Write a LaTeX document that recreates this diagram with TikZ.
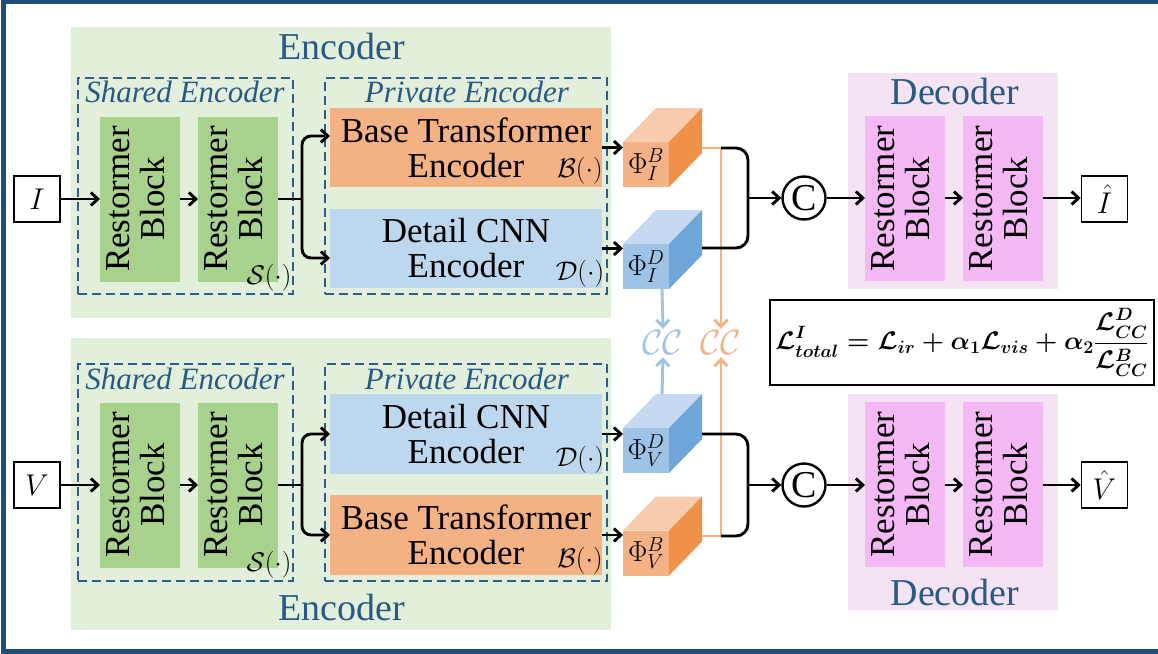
\RequirePackage{fix-cm}
\documentclass[tikz,border=0pt]{standalone}
\usepackage[no-math]{fontspec}
\setmainfont{Liberation Serif}
\usetikzlibrary{arrows.meta}
\definecolor{frameblue}{HTML}{1F4E79}
\definecolor{titleblue}{HTML}{285A88}
\definecolor{dashblue}{HTML}{2F5D8A}
\definecolor{encbgc}{HTML}{E2EFDA}
\definecolor{greenblk}{HTML}{A9D18E}
\definecolor{orangebox}{HTML}{F4B183}
\definecolor{bluebox}{HTML}{BDD7EE}
\definecolor{decbgc}{HTML}{F3E3F3}
\definecolor{pinkblk}{HTML}{F4B8F4}
\definecolor{oTop}{HTML}{F8CBAD}
\definecolor{oFront}{HTML}{F4B183}
\definecolor{oSide}{HTML}{F0914A}
\definecolor{bTop}{HTML}{C5DAF0}
\definecolor{bFront}{HTML}{9DC3E6}
\definecolor{bSide}{HTML}{6FA6DA}
\definecolor{lineorange}{HTML}{F4B183}
\definecolor{lineblue}{HTML}{9DC3E6}
\newcommand\rblock{\rotatebox{90}{\begin{tabular}{@{}c@{}}Restormer\\Block\end{tabular}}}
\newcommand\cubefaces[3]{%
  \fill[#2] (#1.north west) -- ++(33,-34) -- ++(46,0) -- (#1.north east) -- cycle;
  \fill[#3] (#1.north east) -- ++(33,-34) -- ++(0,45) -- (#1.south east) -- cycle;}
\newsavebox\lossbx
\tikzset{
  arr/.style={line width=2.9pt, -{Straight Barb[length=7pt,width=13pt]}},
  ln/.style={line width=2.9pt},
  bgbox/.style={inner sep=0, outer sep=0},
  dashbox/.style={draw=dashblue, dash pattern=on 9pt off 5pt, line width=1.8pt, inner sep=0, outer sep=0},
  gblk/.style={fill=greenblk, minimum width=80pt, minimum height=165pt, inner sep=0, outer sep=0, font=\fontsize{35}{35}\selectfont},
  pblk/.style={fill=pinkblk, minimum width=80pt, minimum height=165pt, inner sep=0, outer sep=0, font=\fontsize{35}{35}\selectfont},
  encbox/.style={minimum width=272pt, minimum height=79pt, inner sep=0, outer sep=0, align=center, font=\fontsize{35}{35}\selectfont},
  iobox/.style={draw, line width=1.5pt, minimum width=46pt, minimum height=46pt, inner sep=0, font=\fontsize{30}{30}\selectfont},
  titletext/.style={text=titleblue, font=\fontsize{38}{38}\selectfont, inner sep=0},
  subtitle/.style={text=titleblue, font=\fontsize{31}{31}\selectfont\itshape, inner sep=0},
  fn/.style={font=\fontsize{27}{27}\selectfont, inner sep=0},
  cubefront/.style={minimum width=46pt, minimum height=45pt, inner sep=0, outer sep=0, font=\fontsize{29}{29}\selectfont},
  ccirc/.style={circle, draw, line width=2.4pt, minimum size=43pt, inner sep=0, font=\fontsize{38}{38}\selectfont},
  ccl/.style={font=\fontsize{35}{35}\selectfont, inner sep=2pt},
  lossbox/.style={draw, line width=1.5pt, minimum width=384pt, minimum height=85pt, inner sep=0},
}
\begin{document}
\sbox\lossbx{\fontsize{25.5}{28}\selectfont\mathversion{bold}$\displaystyle \mathcal{L}^{I}_{total}=\mathcal{L}_{ir}+\alpha_1\mathcal{L}_{vis}+\alpha_2\frac{\mathcal{L}^{D}_{CC}}{\mathcal{L}^{B}_{CC}}$}%
\begin{tikzpicture}[x=1pt,y=-1pt]
\useasboundingbox (0,0) rectangle (1158,653);
\fill[white] (0,0) rectangle (1158,653);
\draw[frameblue, line width=5pt] (1175,1.5) -- (3,1.5) -- (3,651) -- (1175,651);

% ---------- top encoder ----------
\node[bgbox, fill=encbgc, minimum width=540pt, minimum height=291pt] (encI) at (341,172.5) {};
\node[titletext] (encIt) at (342,47) {Encoder};
\node[dashbox, minimum width=215pt, minimum height=216pt] (shI) at (185.5,186) {};
\node[subtitle] (shIt) at (185,92) {Shared Encoder};
\node[dashbox, minimum width=282pt, minimum height=216pt] (prI) at (466,186) {};
\node[subtitle] (prIt) at (467,92) {Private Encoder};
\node[gblk] (g1I) at (140,199) {\rblock};
\node[gblk] (g2I) at (238,199) {\rblock};
\node[fn] (sI) at (269,277.5) {$\mathcal{S}(\cdot)$};
\node[encbox, fill=orangebox] (bI) at (466,147.5) {Base Transformer\\Encoder};
\node[fn] (bIf) at (580,171) {$\mathcal{B}(\cdot)$};
\node[encbox, fill=bluebox] (dI) at (466,248.5) {Detail CNN\\Encoder};
\node[fn] (dIf) at (580,274) {$\mathcal{D}(\cdot)$};
\node[iobox] (I) at (37,199) {$I$};

\draw[arr] (I) -- (g1I);
\draw[arr] (g1I) -- (g2I);
\draw[ln] (g2I.east) -- ++(24,0) coordinate (spI);
\draw[arr, rounded corners=9pt] (spI) |- ([yshift=11.5pt]bI.west);
\draw[arr, rounded corners=9pt] (spI) |- ([yshift=-9.5pt]dI.west);

% ---------- bottom encoder ----------
\node[bgbox, fill=encbgc, minimum width=540pt, minimum height=292pt] (encV) at (341,484) {};
\node[titletext] (encVt) at (342,607) {Encoder};
\node[dashbox, minimum width=215pt, minimum height=217pt] (shV) at (185.5,472.5) {};
\node[subtitle] (shVt) at (185,379) {Shared Encoder};
\node[dashbox, minimum width=282pt, minimum height=217pt] (prV) at (466,472.5) {};
\node[subtitle] (prVt) at (467,379) {Private Encoder};
\node[gblk] (g1V) at (140,485) {\rblock};
\node[gblk] (g2V) at (238,485) {\rblock};
\node[fn] (sV) at (269,565) {$\mathcal{S}(\cdot)$};
\node[encbox, fill=bluebox, minimum height=80pt] (dV) at (466,434) {Detail CNN\\Encoder};
\node[fn] (dVf) at (580,460) {$\mathcal{D}(\cdot)$};
\node[encbox, fill=orangebox, minimum height=80pt] (bV) at (466,535) {Base Transformer\\Encoder};
\node[fn] (bVf) at (580,561) {$\mathcal{B}(\cdot)$};
\node[iobox] (V) at (37,485) {$V$};

\draw[arr] (V) -- (g1V);
\draw[arr] (g1V) -- (g2V);
\draw[ln] (g2V.east) -- ++(24,0) coordinate (spV);
\draw[arr, rounded corners=9pt] (spV) |- (dV.west);
\draw[arr, rounded corners=9pt] (spV) |- (bV.west);

% ---------- cubes ----------
\node[cubefront, fill=oFront] (cIB) at (646,164.5) {$\Phi_I^B$};
\cubefaces{cIB}{oTop}{oSide}
\node[cubefront, fill=bFront] (cID) at (646,266.5) {$\Phi_I^D$};
\cubefaces{cID}{bTop}{bSide}
\node[cubefront, fill=bFront] (cVD) at (646,450.5) {$\Phi_V^D$};
\cubefaces{cVD}{bTop}{bSide}
\node[cubefront, fill=oFront] (cVB) at (646,553) {$\Phi_V^B$};
\cubefaces{cVB}{oTop}{oSide}

\draw[arr] (bI.east) -- (bI.east -| cIB.west);
\draw[arr] (dI.east) -- (dI.east -| cID.west);
\draw[arr] (dV.east) -- (dV.east -| cVD.west);
\draw[arr] (bV.east) -- (bV.east -| cVB.west);

% ---------- CC losses ----------
\node[ccl, text=lineblue] (ccB) at (663,343) {$\mathcal{CC}$};
\node[ccl, text=lineorange] (ccO) at (721,343) {$\mathcal{CC}$};
\coordinate (oIs) at (702,148);
\coordinate (oIj) at (721,148);
\coordinate (oVs) at (702,536);
\coordinate (oVj) at (721,536);
\coordinate (bIs) at (662,289);
\coordinate (bVs) at (662,394.5);
\draw[lineorange, arr] (oIs) -- (oIj) -- (ccO.north);
\draw[lineorange, arr] (oVs) -- (oVj) -- (ccO.south);
\draw[lineblue, arr] (bIs) -- (ccB.north);
\draw[lineblue, arr] (bVs) -- (ccB.south);

% ---------- concat ----------
\node[ccirc] (C1) at (804,198) {C};
\node[ccirc] (C2) at (804,485) {C};
\coordinate (jI) at (748,198);
\coordinate (jV) at (748,485);
\coordinate (kIt) at (748,148);
\coordinate (kIb) at (748,248);
\coordinate (eIb) at (702,248);
\coordinate (kVt) at (748,434);
\coordinate (kVb) at (748,536);
\coordinate (eVt) at (702,434);
\draw[ln, rounded corners=12pt] (oIj) -- (kIt) -- (kIb) -- (eIb);
\draw[ln, rounded corners=12pt] (eVt) -- (kVt) -- (kVb) -- (oVj);
\draw[arr] (jI) -- (C1.west);
\draw[arr] (jV) -- (C2.west);

% ---------- decoders ----------
\node[bgbox, fill=decbgc, minimum width=210pt, minimum height=216pt] (decI) at (953,181) {};
\node[titletext] (decIt) at (955,92) {Decoder};
\node[pblk] (p1I) at (905,198.5) {\rblock};
\node[pblk] (p2I) at (1003,198.5) {\rblock};
\node[iobox] (Ih) at (1104.5,199) {$\hat{I}$};
\draw[arr] (C1.east) -- (C1.east -| p1I.west);
\draw[arr] (p1I.east |- C1) -- (p2I.west |- C1);
\draw[arr] (p2I.east |- C1) -- (Ih.west |- C1);

\node[bgbox, fill=decbgc, minimum width=210pt, minimum height=216pt] (decV) at (953,502) {};
\node[titletext] (decVt) at (955,592) {Decoder};
\node[pblk] (p1V) at (905,484.5) {\rblock};
\node[pblk] (p2V) at (1003,484.5) {\rblock};
\node[iobox] (Vh) at (1104.5,485) {$\hat{V}$};
\draw[arr] (C2.east) -- (C2.east -| p1V.west);
\draw[arr] (p1V.east |- C2) -- (p2V.west |- C2);
\draw[arr] (p2V.east |- C2) -- (Vh.west |- C2);

% ---------- loss ----------
\node[lossbox] (loss) at (962,342.5) {\usebox\lossbx};
\end{tikzpicture}
\end{document}
